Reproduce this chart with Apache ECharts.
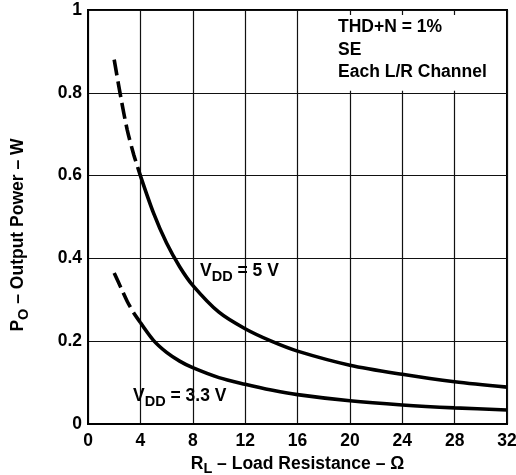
<!DOCTYPE html>
<html>
<head>
<meta charset="utf-8">
<script src="https://cdn.jsdelivr.net/npm/echarts@6/dist/echarts.min.js"></script>
<style>html,body{margin:0;padding:0;background:#fff}#c{width:516px;height:475px}</style>
</head>
<body>
<div id="c"></div>
<script>
// Load resistance (ohm) and output power (W)
const r5Dashed = [2, 2.5, 3, 3.5, 4];
const p5Dashed = [0.88, 0.79, 0.71, 0.65, 0.6];
const r5Solid = [4, 5, 6, 7, 8, 10, 12, 14, 16, 20, 24, 28, 32];
const p5Solid = [0.6, 0.51, 0.437, 0.38, 0.335, 0.27, 0.23, 0.2, 0.176, 0.142, 0.12, 0.102, 0.089];
const r33Dashed = [2, 2.5, 3, 3.5, 4];
const p33Dashed = [0.365, 0.33, 0.296, 0.268, 0.245];
const r33Solid = [4, 5, 6, 7, 8, 10, 12, 14, 16, 20, 24, 28, 32];
const p33Solid = [0.245, 0.202, 0.173, 0.152, 0.136, 0.112, 0.096, 0.082, 0.071, 0.056, 0.046, 0.039, 0.034];
const xTicks = [0, 4, 8, 12, 16, 20, 24, 28, 32];
const yTicks = [0, 0.2, 0.4, 0.6, 0.8, 1];
const noteLines = ['THD+N = 1%', 'SE', 'Each L/R Channel'];

const FONT = '"Liberation Sans", Arial, Helvetica, sans-serif';
const zip = (a, b) => a.map((v, i) => [v, b[i]]);
const chart = echarts.init(document.getElementById('c'), null, {renderer: 'canvas'});

function lineSeries(data, dashed) {
  return {
    type: 'line', data: data, smooth: 0.3, symbol: 'none', silent: true,
    lineStyle: {color: '#000', width: 3.6, type: dashed ? [16, 6] : 'solid', cap: 'butt'},
    z: 5
  };
}
const subRich = {
  m: {fontFamily: FONT, fontWeight: 'bold', fontSize: 17.5, color: '#000', verticalAlign: 'top', lineHeight: 22},
  s: {fontFamily: FONT, fontWeight: 'bold', fontSize: 14.5, color: '#000', verticalAlign: 'bottom', lineHeight: 22}
};

const series = [
  lineSeries(zip(r5Dashed, p5Dashed), true),
  lineSeries(zip(r5Solid, p5Solid), false),
  lineSeries(zip(r33Dashed, p33Dashed), true),
  lineSeries(zip(r33Solid, p33Solid), false)
];
series[1].markArea = {
  silent: true,
  itemStyle: {color: '#fff', opacity: 1},
  data: [[{xAxis: 16.1, yAxis: 0.805}, {xAxis: 31.85, yAxis: 0.988}]]
};

chart.setOption({
  animation: false,
  backgroundColor: '#fff',
  grid: {left: 88, right: 9, top: 10, bottom: 51, outerBoundsMode: 'none', containLabel: false,
    show: true, borderColor: '#000', borderWidth: 2, backgroundColor: 'transparent'},
  xAxis: {
    type: 'value', min: xTicks[0], max: xTicks[xTicks.length - 1], interval: 4,
    axisLine: {show: true, lineStyle: {color: '#000', width: 2}},
    axisTick: {show: false},
    splitLine: {show: true, lineStyle: {color: '#111', width: 1.2}},
    axisLabel: {color: '#000', fontFamily: FONT, fontWeight: 'bold', fontSize: 17.5, margin: 8},
    name: '{m|R}{s|L}{m| – Load Resistance – Ω}',
    nameLocation: 'middle', nameGap: 26,
    nameTextStyle: {rich: subRich}
  },
  yAxis: {
    type: 'value', min: yTicks[0], max: yTicks[yTicks.length - 1], interval: 0.2,
    axisLine: {show: true, lineStyle: {color: '#000', width: 2}},
    axisTick: {show: false},
    splitLine: {show: true, lineStyle: {color: '#111', width: 1.2}},
    axisLabel: {color: '#000', fontFamily: FONT, fontWeight: 'bold', fontSize: 17.5, margin: 6,
      formatter: v => String(Math.round(v * 10) / 10)}
  },
  graphic: [
    {type: 'text', x: 20, y: 235, rotation: Math.PI / 2, z: 10,
      style: {text: '{m|P}{s|O}{m| – Output Power – W}', rich: subRich, align: 'center', verticalAlign: 'middle'}},
    {type: 'text', x: 200, y: 273, z: 10,
      style: {text: '{m|V}{s|DD}{m| = 5 V}', rich: subRich, align: 'left', verticalAlign: 'middle'}},
    {type: 'text', x: 133, y: 398, z: 10,
      style: {text: '{m|V}{s|DD}{m| = 3.3 V}', rich: subRich, align: 'left', verticalAlign: 'middle'}},
    {type: 'text', x: 338, y: 27.5, z: 10,
      style: {text: noteLines[0], font: 'bold 17.5px ' + FONT, fill: '#000', align: 'left', verticalAlign: 'middle'}},
    {type: 'text', x: 338, y: 50.5, z: 10,
      style: {text: noteLines[1], font: 'bold 17.5px ' + FONT, fill: '#000', align: 'left', verticalAlign: 'middle'}},
    {type: 'text', x: 338, y: 72, z: 10,
      style: {text: noteLines[2], font: 'bold 17.5px ' + FONT, fill: '#000', align: 'left', verticalAlign: 'middle'}}
  ],
  series: series
});
</script>
</body>
</html>
